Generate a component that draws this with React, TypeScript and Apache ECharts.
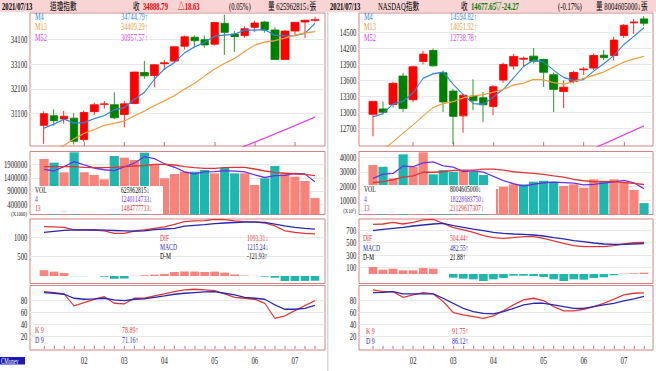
import React, { useEffect, useRef } from 'react';
import * as echarts from 'echarts';

// ---------- data ----------
const weeks = ['2021/01/08','2021/01/15','2021/01/22','2021/01/29','2021/02/05','2021/02/12','2021/02/19','2021/02/26','2021/03/05','2021/03/12','2021/03/19','2021/03/26','2021/04/01','2021/04/09','2021/04/16','2021/04/23','2021/04/30','2021/05/07','2021/05/14','2021/05/21','2021/05/28','2021/06/04','2021/06/11','2021/06/18','2021/06/25','2021/07/02','2021/07/09','2021/07/13'];

// Dow Jones (left)
const djPrevClose = 30606.48;
const djOpen = [30627.47,31015.01,30887.29,30920.00,30054.73,31181.05,31480.00,31460.00,31065.92,31505.93,32758.80,32641.00,33118.00,33222.00,33822.00,34183.00,34083.00,33904.00,34743.00,34312.00,34252.00,34584.00,34796.00,34478.00,33290.00,34434.00,34800.00,34871.00];
const djClose = [31097.97,30814.26,30996.98,29982.62,31148.24,31458.40,31494.32,30932.37,31496.30,32778.64,32627.97,33072.88,33153.21,33800.60,34200.67,34043.49,33874.85,34777.76,34382.13,34207.84,34529.45,34756.39,34479.60,33290.08,34433.84,34786.35,34870.16,34888.79];
const djLow = [29881.82,30612.81,30695.94,29856.30,29970.00,31047.00,31306.00,30880.00,30547.53,31486.00,32511.00,32160.00,32865.00,33150.00,33690.00,33740.00,33760.00,33850.00,33473.80,33596.60,34160.00,34400.00,34364.00,33271.90,33293.00,34237.00,34145.00,34785.00];
const djHigh = [31193.40,31272.22,31204.74,31111.75,31223.78,31543.00,31613.00,31961.86,31620.00,32793.00,33227.78,33098.00,33259.00,33810.00,34256.75,34256.00,34256.00,34811.00,35091.56,34432.00,34631.00,34849.00,34847.00,34587.00,34471.00,34786.35,34893.00,35015.00];
const djM4 = [30520.84,30679.65,30878.92,30722.96,30735.53,30896.56,31020.90,31258.33,31345.35,31675.41,31958.82,32493.95,32908.18,33163.67,33556.84,33799.49,33979.90,34224.19,34269.56,34310.65,34474.30,34468.95,34493.32,34263.88,34239.98,34247.47,34345.11,34744.79];
const djM13 = [29443.73,29613.58,29818.30,30086.07,30303.37,30455.57,30627.17,30705.78,30804.09,31014.27,31202.65,31423.65,31619.55,31827.45,32087.94,32322.29,32621.69,32900.88,33125.78,33334.52,33611.21,33862.01,33992.83,34043.77,34148.45,34274.08,34356.35,34409.29];
const djM52 = [26820,26870,26920,26980,27050,27140,27250,27380,27540,27740,27960,28170,28370,28560,28740,28920,29100,29280,29450,29620,29790,29950,30115,30285,30450,30620,30790,30957.57];
const djVol = [2114550,1974800,1606500,2368500,1606500,1505000,1339900,2228900,2165400,2076500,2355900,1924000,1378000,1543000,1632000,1632000,1695000,1568500,1784400,1568500,1568500,1124000,1378000,1847900,1606500,1441400,1276400,625962.8];
const djVolMa4 = [1720800,1657400,1822400,2016088,1889075,1771625,1704975,1670075,1809800,1952675,2206675,2130450,1933600,1800225,1619250,1546250,1625500,1631875,1669975,1654100,1622475,1511350,1409750,1479600,1489100,1568450,1543050,1240114.7];
const djVolMa13 = [1822400,1822400,1822400,1822400,1797000,1784400,1784400,1797000,1822400,1847900,1860400,1911300,1911300,1886000,1822400,1784400,1759000,1759000,1784400,1797000,1797000,1733600,1657400,1606500,1568500,1543000,1530300,1484777.7];
const djDif = [1278,1270,1260,1191,1191,1191,1166,1105,1105,1165,1191,1235,1270,1338,1407,1425,1434,1468,1459,1425,1407,1399,1373,1300,1170,1131,1105,1093.31];
const djMacd = [1131,1157,1183,1195,1195,1191,1186,1178,1170,1160,1171,1200,1217,1235,1290,1310,1330,1355,1372,1385,1395,1397,1390,1345,1300,1260,1232,1215.24];
const djOsc = [147,113,77,-4,-4,0,-20,-73,-65,5,20,35,53,103,117,115,104,113,87,40,12,2,-17,-45,-130,-129,-127,-121.93];
const djK = [93.8,92.2,90.0,70.3,75.8,81.3,85.6,74.7,73.6,82.9,82.9,86.7,90.0,93.8,96.6,97.7,96.6,95.5,90.0,84.5,82.9,81.3,74.7,50.1,53.9,62.7,70.9,78.89];
const djD = [92.2,91.1,89.5,82.9,81.3,81.8,82.9,80.2,79.1,81.3,81.8,84.5,86.7,89.5,91.1,92.2,93.3,93.8,91.1,88.4,84.5,82.9,81.3,72.0,64.9,64.9,66.5,71.16];

// NASDAQ (right)
const nqPrevClose = 12888.28;
const nqOpen = [12958.52,13060,13146,13680,13234,13957,14164,13743,13397,12930,13303,13272,13108,13605,13870,14000,14057,13994,13705,13391,13580,13800,13831,14075,14070,14446,14685,14760];
const nqClose = [13201.98,12998.50,13543.06,13070.69,13856.30,14095.47,13874.46,13192.34,12920.15,13319.87,13215.24,13138.73,13480.11,13900.19,14052.34,14016.81,13962.68,13752.24,13429.98,13470.99,13748.74,13814.49,14069.42,14030.38,14360.39,14639.33,14701.92,14677.65];
const nqLow = [12543.24,12960,13090,13003,13190,13900,13860,13003,12397,12609,13036,12813,12940,13554,13800,13850,13920,13473,13002,13077,13540,13700,13790,13980,13975,14400,14478,14630];
const nqHigh = [13208,13200,13575,13737,13878,14157,14200,13787,13441,13350,13620,13380,13510,13935,14100,14050,14211,14010,13750,13600,13780,13850,14110,14175,14420,14660,14760,14811];
const nqM4 = [12912.66,12973.37,13157.96,13203.56,13367.14,13641.38,13724.23,13754.64,13520.61,13326.71,13161.90,13148.50,13288.49,13433.57,13642.84,13862.36,13983.01,13946.02,13790.43,13653.97,13600.49,13616.05,13775.91,13915.76,14068.67,14274.88,14433.01,14594.82];
const nqM13 = [12185.35,12287.42,12440.86,12606.95,12757.80,12932.12,13087.47,13163.35,13198.42,13270.88,13306.24,13331.93,13377.45,13431.16,13512.23,13548.67,13617.28,13609.28,13558.09,13527.05,13569.85,13638.65,13696.30,13759.01,13852.98,13942.15,14003.82,14051.92];
const nqM52 = [10100,10200,10300,10400,10500,10610,10720,10830,10940,11050,11160,11270,11380,11490,11600,11700,11800,11890,11975,12060,12145,12230,12315,12400,12485,12570,12655,12738.78];
const nqVol = [34860,33660,25490,42390,33660,43800,28310,31340,30140,31340,30140,27820,18000,19580,21270,21270,23100,23800,23100,20070,21270,18870,24790,23800,24790,23100,17250,8004.6];
const nqVolMa4 = [25470,28520,28990,34100,33800,36335,37040,34278,33398,30283,30740,29860,26825,23885,21668,20030,21305,22360,22818,22518,22060,20828,21250,22183,23063,24120,22235,18228.68];
const nqVolMa13 = [22390,23100,24500,26380,27280,29790,29790,30140,31100,31340,31340,32040,32040,31340,30140,29540,28940,28310,27280,26380,24790,23800,23100,23100,23100,22500,21900,21129.62];
const nqDif = [790,795,821,795,821,859,869,806,737,700,662,610,578,567,578,594,594,567,525,487,450,435,435,435,450,477,498,504.44];
const nqMacd = [689,710,726,742,763,779,795,806,768,742,715,689,662,647,636,631,620,604,578,557,530,514,493,477,472,472,477,482.55];
const nqOsc = [111,69,85,58,58,95,85,0,-58,-74,-85,-111,-85,-63,-26,-26,-32,-48,-85,-111,-85,-90,-63,-53,-20,5,12,21.88];
const nqK = [96.6,93.8,93.8,84.5,88.4,92.2,90.0,77.4,59.4,55.6,52.8,50.1,53.9,62.7,72.0,80.2,82.9,79.1,69.2,62.2,62.2,64.9,69.2,74.7,81.3,88.4,91.1,91.75];
const nqD = [92.2,92.7,93.8,90.0,90.0,90.0,90.0,82.9,74.7,66.5,61.0,58.3,57.2,61.0,66.5,72.0,74.7,74.7,72.0,69.2,66.5,66.5,69.2,72.0,74.7,78.6,81.8,86.12];

// tick labels
const djCandleTicks = [31100, 32100, 33100, 34100];
const nqCandleTicks = [12700, 13000, 13300, 13600, 13900, 14200, 14500];
const djVolTicks = [400000, 900000, 1400000, 1900000];
const nqVolTicks = [10000, 20000, 30000, 40000];
const djMacdTicks = [500, 1000];
const nqMacdTicks = [100, 300, 500, 700];
const kdTicks = [20, 40, 60, 80];

// ---------- styling / layout ----------
const SX = 1.5; // horizontal squeeze factor (chart drawn wide, shown compressed)
const W = 656 * SX;
const H = 371;
const FONT = "'Liberation Serif', 'Noto Sans CJK TC', serif";
const BORDER = '#c96a6a';
const GRIDC = '#e4e4e4';
const UP = '#ff0000';
const DOWN = '#008000';
const SAL = '#f7837b';
const TEAL = '#1fb6b0';
const C_M4 = '#2f86d8';
const C_M13 = '#eea040';
const C_M52 = '#e040e8';
const C_V4 = '#6a30e6';
const C_RED = '#e03434';
const C_BLUE = '#2626b4';

const FRAME_L = [30, 359];
const FRAME_W = [295, 294];
const DATA_L = [39, 368];
const DATA_W = 281;
const PANEL_TOP = [13, 151.5, 219, 285.5];
const PANEL_H = [133, 63, 64.5, 64.5];

const monthStart = weeks.map((w, i) => i > 0 && w.slice(5, 7) !== weeks[i - 1].slice(5, 7));

const sides = [
  {
    open: djOpen, close: djClose, low: djLow, high: djHigh, prev: djPrevClose,
    m4: djM4, m13: djM13, m52: djM52, vol: djVol, v4: djVolMa4, v13: djVolMa13,
    dif: djDif, macd: djMacd, osc: djOsc, k: djK, d: djD,
    ranges: [[29795, 35163], [0, 2400000], [-194, 1476], [-1.8, 103.8]],
    ticks: [djCandleTicks, djVolTicks, djMacdTicks, kdTicks],
  },
  {
    open: nqOpen, close: nqClose, low: nqLow, high: nqHigh, prev: nqPrevClose,
    m4: nqM4, m13: nqM13, m52: nqM52, vol: nqVol, v4: nqVolMa4, v13: nqVolMa13,
    dif: nqDif, macd: nqMacd, osc: nqOsc, k: nqK, d: nqD,
    ranges: [[12361, 14871], [0, 44400], [-151, 874.5], [-1.8, 103.8]],
    ticks: [nqCandleTicks, nqVolTicks, nqMacdTicks, kdTicks],
  },
];

function buildOption() {
  const grid: any[] = [];
  const xAxis: any[] = [];
  const yAxis: any[] = [];
  const series: any[] = [];

  const addPanel = (s: number, p: number, xExtra: any) => {
    const [ymin, ymax] = sides[s].ranges[p];
    const top = PANEL_TOP[p];
    const height = PANEL_H[p];
    const fi = grid.length;
    grid.push({ left: FRAME_L[s] * SX, top, width: FRAME_W[s] * SX, height, show: true, borderColor: BORDER, borderWidth: 1, backgroundColor: 'transparent' });
    xAxis.push({ type: 'value', gridIndex: fi, min: 0, max: 1, show: false });
    yAxis.push({ type: 'value', gridIndex: fi, min: ymin, max: ymax, show: false });
    series.push({
      type: 'line', xAxisIndex: fi, yAxisIndex: fi, data: [[0, ymin]], showSymbol: false, symbol: 'none',
      lineStyle: { opacity: 0 }, silent: true, z: 1,
      markLine: {
        silent: true, symbol: 'none', z: 1, animation: false,
        lineStyle: { color: GRIDC, width: 1, type: 'solid' },
        label: { position: 'start', distance: 4, formatter: (pr: any) => String(pr.value), fontSize: 10, fontFamily: FONT, color: '#222' },
        data: sides[s].ticks[p].map((v) => ({ yAxis: v })),
      },
    });
    const di = grid.length;
    grid.push({ left: DATA_L[s] * SX, top, width: DATA_W * SX, height });
    xAxis.push(Object.assign({
      type: 'category', gridIndex: di, data: weeks, boundaryGap: true,
      axisLine: { show: false }, axisTick: { show: false }, axisLabel: { show: false }, splitLine: { show: false },
    }, xExtra));
    yAxis.push({ type: 'value', gridIndex: di, min: ymin, max: ymax, show: false, splitLine: { show: false } });
    return di;
  };

  const line = (idx: number, data: number[], color: string, width = 1.3) => ({
    type: 'line', xAxisIndex: idx, yAxisIndex: idx, data, showSymbol: false, symbol: 'none', clip: true,
    lineStyle: { color, width }, z: 4, silent: true,
  });

  for (let s = 0; s < 2; s++) {
    const d = sides[s];
    // candles
    const ci = addPanel(s, 0, {
      axisTick: { show: true, inside: true, length: 4, alignWithLabel: true, interval: (i: number) => monthStart[i], lineStyle: { color: '#a05a5a' } },
    });
    series.push({
      type: 'candlestick', xAxisIndex: ci, yAxisIndex: ci, barWidth: 8 * SX, z: 3, silent: true,
      data: d.open.map((o, i) => [o, d.close[i], d.low[i], d.high[i]]),
      itemStyle: { color: UP, color0: DOWN, borderColor: UP, borderColor0: DOWN, borderWidth: 1 },
    });
    series.push(line(ci, d.m4, C_M4));
    series.push(line(ci, d.m13, C_M13));
    series.push(line(ci, d.m52, C_M52));

    // volume
    const vi = addPanel(s, 1, {});
    series.push({
      type: 'bar', xAxisIndex: vi, yAxisIndex: vi, barWidth: 9.2 * SX, z: 3, silent: true,
      data: d.vol.map((v, i) => ({ value: v, itemStyle: { color: d.close[i] >= (i > 0 ? d.close[i - 1] : d.prev) ? SAL : TEAL } })),
    });
    series.push(line(vi, d.v4, C_V4));
    series.push(line(vi, d.v13, C_RED));

    // MACD
    const mi = addPanel(s, 2, {});
    series.push({
      type: 'bar', xAxisIndex: mi, yAxisIndex: mi, barWidth: 8.6 * SX, z: 3, silent: true,
      data: d.osc.map((v) => ({ value: v, itemStyle: { color: v >= 0 ? SAL : TEAL } })),
    });
    series.push(line(mi, d.dif, C_RED));
    series.push(line(mi, d.macd, C_BLUE));

    // KD
    const ki = addPanel(s, 3, {
      axisTick: { show: true, inside: true, length: 3, alignWithLabel: true, interval: 0, lineStyle: { color: '#a05a5a' } },
      axisLabel: { show: true, interval: (i: number) => monthStart[i], formatter: (v: string) => v.slice(5, 7), margin: 5, fontSize: 10, fontFamily: FONT, color: '#222' },
    });
    series.push(line(ki, d.k, C_RED));
    series.push(line(ki, d.d, C_BLUE));
  }

  const T = (x: number, y: number, text: string, fill = '#000', bold = false, size = 10, align = 'left') => ({
    type: 'text', x: x * SX, y, z: 100, silent: true,
    style: { text, fill, fontSize: size, fontFamily: FONT, fontWeight: bold ? 'bold' : 'normal', align, verticalAlign: 'middle' },
  });
  const R = (x: number, y: number, w: number, h: number, fill: string) => ({
    type: 'rect', z: 99, silent: true, shape: { x: x * SX, y, width: w * SX, height: h }, style: { fill },
  });
  const LS = 8.5; // small legend font size

  const graphic: any[] = [
    R(0, 0, 656, 12, '#f8d4d4'),
    R(327, 12, 1.5, 359, '#d8d8d8'),
    // header left
    T(2, 6.5, '2021/07/13', '#000', true),
    T(50, 6.5, '道瓊指數'),
    T(133, 6.5, '收'),
    T(143, 6.5, '34888.79', '#e00000', true),
    T(178, 6.5, '△18.63', '#e00000', true),
    T(229, 6.5, '(0.05%)'),
    T(268, 6.5, '量 625962815↓張'),
    // header right
    T(330, 6.5, '2021/07/13', '#000', true),
    T(378, 6.5, 'NASDAQ指數'),
    T(461, 6.5, '收'),
    T(471, 6.5, '14677.65', '#008000', true),
    T(495, 6.5, '▽-24.27', '#008000', true),
    T(558, 6.5, '(-0.17%)'),
    T(596, 6.5, '量 8004605000↓張'),
    // candle legends
    T(35, 17, 'M4', C_M4, false, 9.5), T(121, 17, '34744.79↑', C_M4, false, 9.5),
    T(35, 27.5, 'M13', C_M13, false, 9.5), T(121, 27.5, '34409.29↑', C_M13, false, 9.5),
    T(35, 38, 'M52', C_M52, false, 9.5), T(121, 38, '30957.57↑', C_M52, false, 9.5),
    T(364, 17, 'M4', C_M4, false, 9.5), T(450, 17, '14594.82↑', C_M4, false, 9.5),
    T(364, 27.5, 'M13', C_M13, false, 9.5), T(450, 27.5, '14051.92↑', C_M13, false, 9.5),
    T(364, 38, 'M52', C_M52, false, 9.5), T(450, 38, '12738.78↑', C_M52, false, 9.5),
    // volume legends
    R(33, 186, 130, 28, '#ffffff'),
    T(35, 191, 'VOL', '#000', false, LS), T(121, 191, '625962815↓', '#000', false, LS),
    T(35, 200, '4', C_V4, false, LS), T(121, 200, '1240114733↓', C_V4, false, LS),
    T(35, 209, '13', C_RED, false, LS), T(121, 209, '1484777713↓', C_RED, false, LS),
    R(361, 185, 135, 29, '#ffffff'),
    T(364, 190, 'VOL', '#000', false, LS), T(450, 190, '8004605000↓', '#000', false, LS),
    T(364, 199.5, '4', C_V4, false, LS), T(450, 199.5, '18228683750↓', C_V4, false, LS),
    T(364, 208.5, '13', C_RED, false, LS), T(450, 208.5, '21129617307↓', C_RED, false, LS),
    T(27, 213.5, '(X1000)', '#222', false, 7, 'right'),
    T(356, 211, '(X10⁶)', '#222', false, 7, 'right'),
    // MACD legends
    T(160, 238.3, 'DIF', C_RED, false, LS), T(247, 238.3, '1093.31↓', C_RED, false, LS),
    T(160, 247.3, 'MACD', C_BLUE, false, LS), T(247, 247.3, '1215.24↓', C_BLUE, false, LS),
    T(160, 256.5, 'D-M', '#000', false, LS), T(247, 256.5, '-121.93↑', '#000', false, LS),
    T(363, 239, 'DIF', C_RED, false, LS), T(450, 239, '504.44↑', C_RED, false, LS),
    T(363, 248.3, 'MACD', C_BLUE, false, LS), T(450, 248.3, '482.55↑', C_BLUE, false, LS),
    T(363, 257.5, 'D-M', '#000', false, LS), T(450, 257.5, '21.88↑', '#000', false, LS),
    // KD legends
    T(35, 330, 'K 9', C_RED, false, 9), T(122, 330, '78.89↑', C_RED, false, 9),
    T(35, 340, 'D 9', C_BLUE, false, 9), T(122, 340, '71.16↑', C_BLUE, false, 9),
    T(366, 331, 'K 9', C_RED, false, 9), T(452, 331, '91.75↑', C_RED, false, 9),
    T(366, 341, 'D 9', C_BLUE, false, 9), T(452, 341, '86.12↑', C_BLUE, false, 9),
    // brand
    R(0, 357, 25, 7.5, '#1a1ab4'),
    T(1, 360.8, 'CMoney', '#ffffff', false, 7.5),
  ];

  return {
    animation: false,
    backgroundColor: '#ffffff',
    grid, xAxis, yAxis, series, graphic,
  };
}

export default function App() {
  const ref = useRef<HTMLDivElement>(null);
  useEffect(() => {
    document.body.style.margin = '0';
    const chart = echarts.init(ref.current as HTMLDivElement, null, { renderer: 'svg', width: W, height: H });
    chart.setOption(buildOption() as any);
    return () => chart.dispose();
  }, []);
  return (
    <div style={{ position: 'fixed', left: 0, top: 0, width: 656, height: 371, overflow: 'hidden', background: '#fff' }}>
      <div ref={ref} style={{ width: W, height: H, transform: `scaleX(${1 / SX})`, transformOrigin: '0 0' }} />
    </div>
  );
}
